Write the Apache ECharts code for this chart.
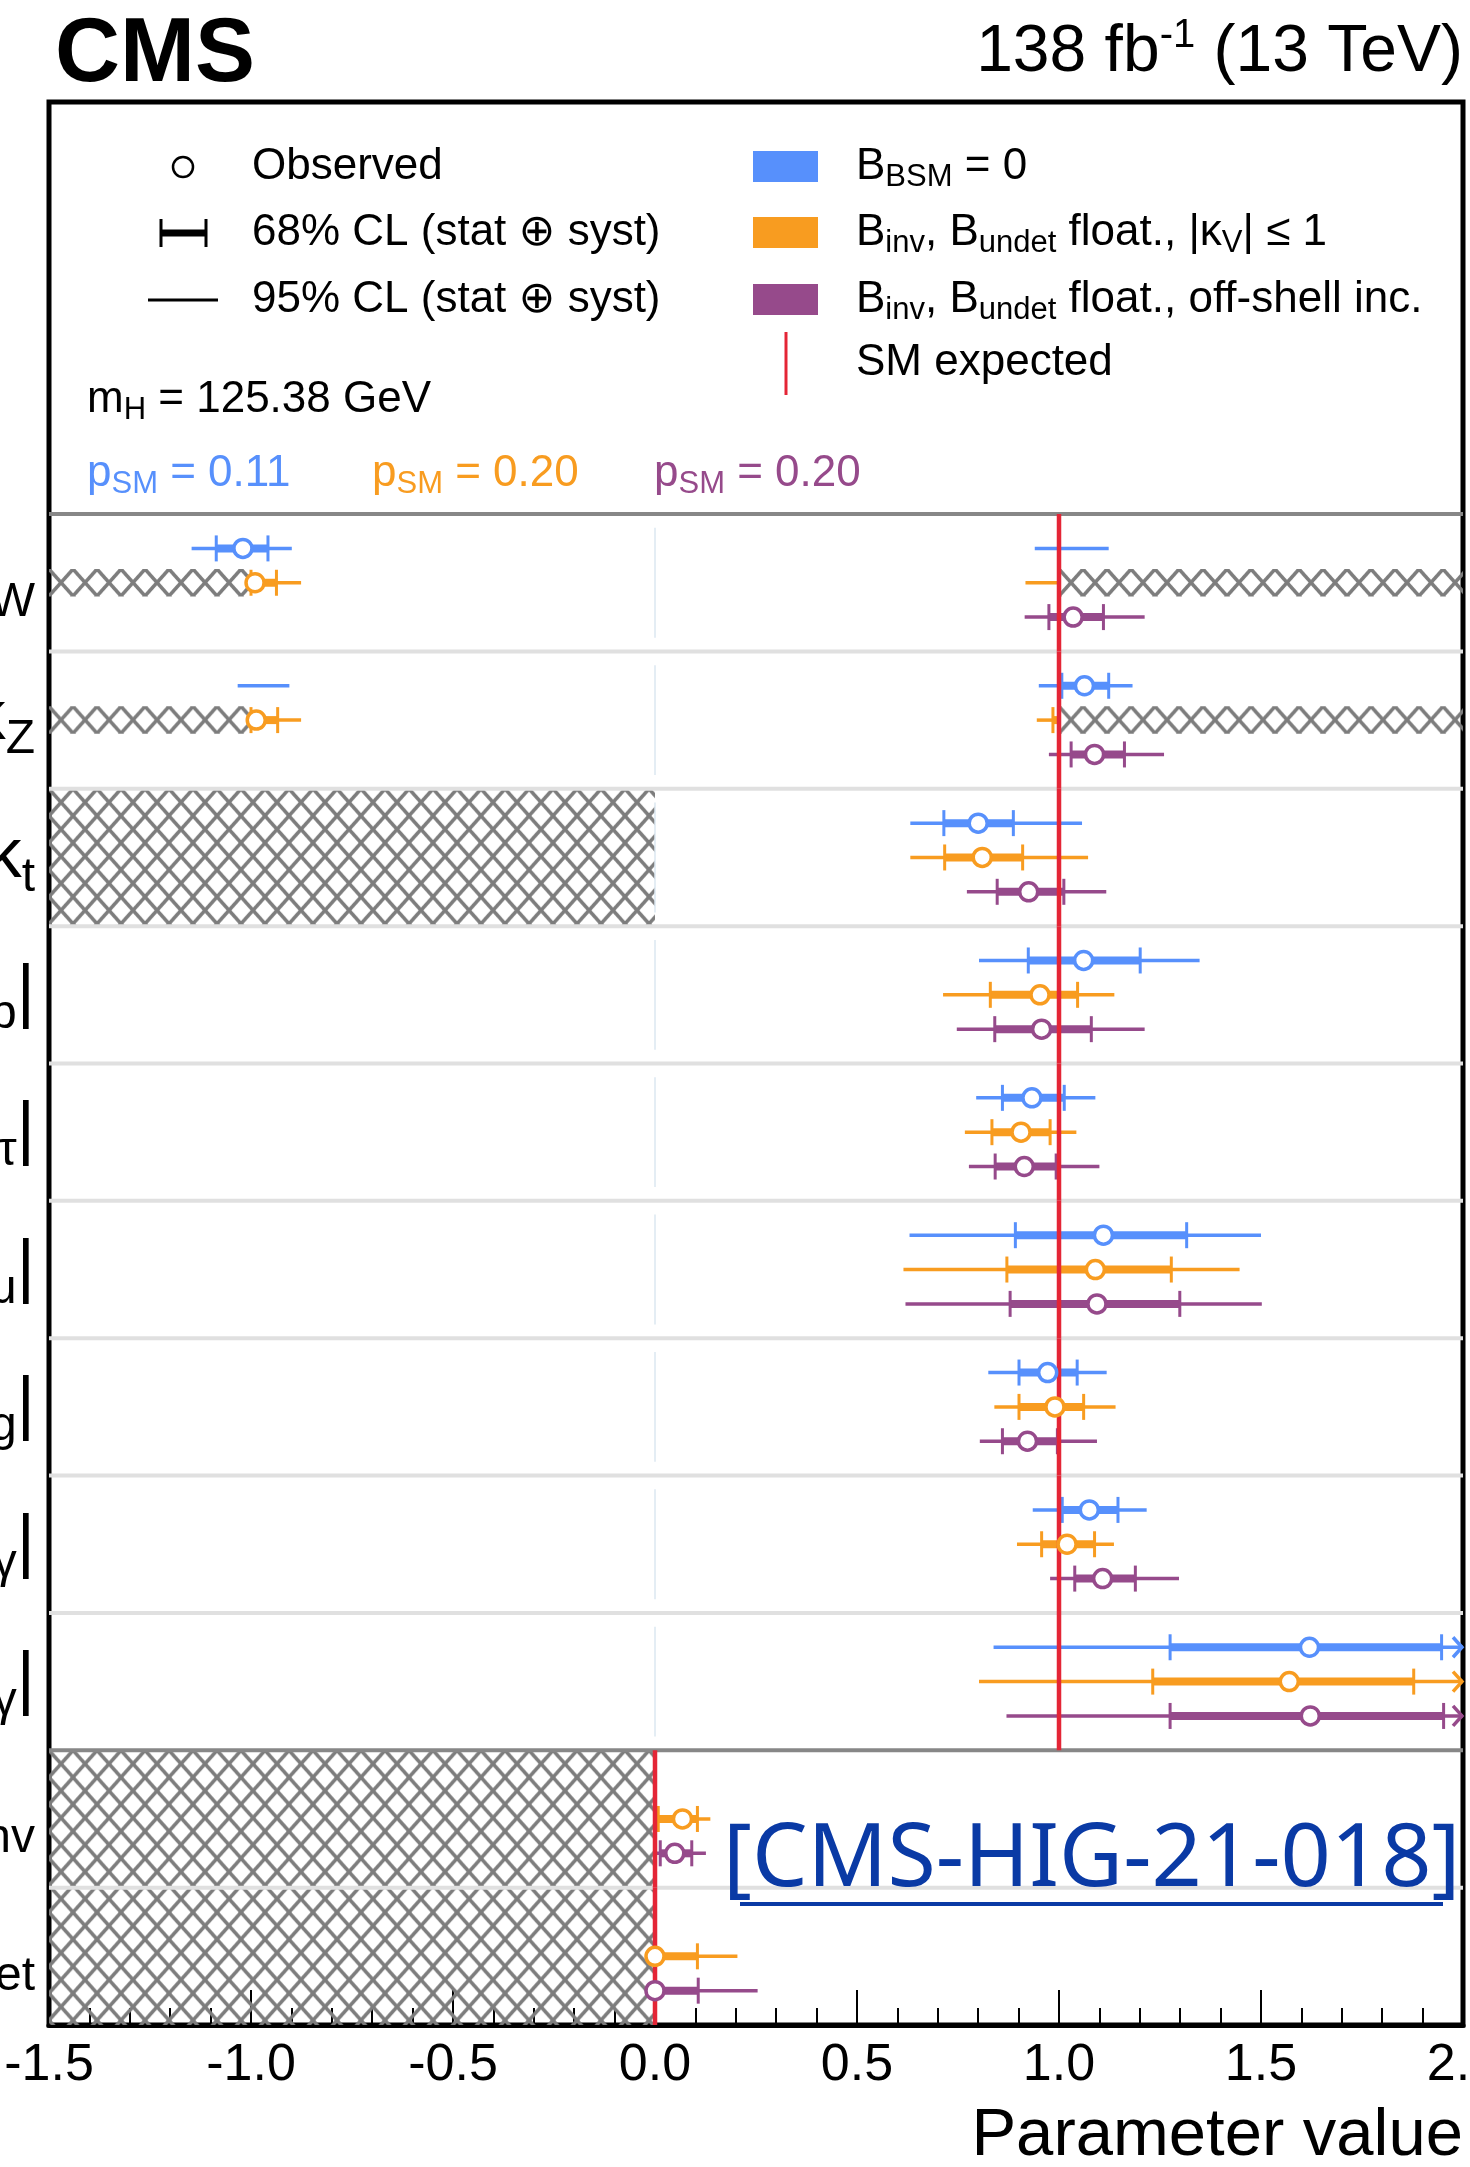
<!DOCTYPE html>
<html>
<head>
<meta charset="utf-8">
<script src="https://cdn.jsdelivr.net/npm/echarts@6/dist/echarts.min.js"></script>
<style>
html,body{margin:0;padding:0;background:#fff;}
#chart{width:1470px;height:2167px;}
</style>
</head>
<body>
<div id="chart"></div>
<script>
// ---------------- DATA ----------------
const X_MIN = -1.5, X_MAX = 2.0, X_STEP = 0.5;
const LEGEND_SLOTS = 3;
const rowNames = ['κ_W','κ_Z','κ_t','|κ_b|','|κ_τ|','|κ_μ|','|κ_g|','|κ_γ|','|κ_Zγ|','B_inv','B_undet'];
const smExpected = [1, 1, 1, 1, 1, 1, 1, 1, 1, 0, 0];
const modelLabels = [
  '{t|B}{s|BSM}{t| = 0}',
  '{t|B}{s|inv}{t|, B}{s|undet}{t| float., |κ}{s|V}{t|| ≤ 1}',
  '{t|B}{s|inv}{t|, B}{s|undet}{t| float., off-shell inc.}'
];
const pSM = ['0.11', '0.20', '0.20'];

// B_BSM = 0 (blue)
const blueCentral = [-1.02, 1.063, 0.80, 1.061, 0.933, 1.11, 0.972, 1.075, 1.62, null, null];
const blue68  = [[-1.086,-0.958],[1.007,1.123],[0.715,0.887],[0.924,1.201],[0.86,1.013],[0.892,1.316],[0.901,1.045],[1.008,1.146],[1.275,1.947],null,null];
const blue68b = [null,null,null,null,null,null,null,null,null,null,null];
const blue95  = [[-1.147,-0.899],[0.95,1.182],[0.632,1.057],[0.802,1.348],[0.795,1.09],[0.63,1.50],[0.825,1.118],[0.935,1.217],[0.838,null],null,null];
const blue95b = [[0.94,1.123],[-1.033,-0.905],null,null,null,null,null,null,null,null,null];

// B_inv, B_undet float., |kV| <= 1 (orange)
const orangeCentral = [-0.99, -0.987, 0.81, 0.953, 0.906, 1.09, 0.99, 1.02, 1.57, 0.068, 0.0];
const orange68  = [[-1.0,-0.937],[-1.0,-0.934],[0.717,0.91],[0.83,1.046],[0.834,0.978],[0.871,1.278],[0.901,1.061],[0.957,1.088],[1.232,1.878],[0.008,0.105],[0.0,0.105]];
const orange68b = [null,[0.985,1.0],null,null,null,null,null,null,null,null,null];
const orange95  = [[-1.0,-0.876],[-1.0,-0.876],[0.632,1.072],[0.713,1.137],[0.767,1.043],[0.615,1.447],[0.84,1.14],[0.896,1.136],[0.802,null],[0.0,0.137],[0.0,0.204]];
const orange95b = [[0.917,1.0],[0.945,1.0],null,null,null,null,null,null,null,null,null];

// B_inv, B_undet float., off-shell inc. (purple)
const purpleCentral = [1.035, 1.088, 0.925, 0.957, 0.914, 1.094, 0.922, 1.108, 1.622, 0.049, 0.0];
const purple68  = [[0.975,1.11],[1.03,1.162],[0.847,1.012],[0.841,1.08],[0.842,0.993],[0.879,1.299],[0.86,0.996],[1.039,1.189],[1.275,1.952],[0.013,0.091],[0.0,0.107]];
const purple68b = [null,null,null,null,null,null,null,null,null,null,null];
const purple95  = [[0.915,1.212],[0.975,1.26],[0.772,1.117],[0.747,1.212],[0.777,1.10],[0.62,1.502],[0.804,1.094],[0.978,1.297],[0.87,null],[0.0,0.126],[0.0,0.254]];
const purple95b = [null,null,null,null,null,null,null,null,null,null,null];

// Excluded (hatched) regions: x-range, first/last row, model band (-1 = whole row)
const hatchX        = [[-1.5,-1.0],[1.0,2.0],[-1.5,-1.0],[1.0,2.0],[-1.5,0.0],[-1.5,0.0]];
const hatchRowFirst = [0, 0, 1, 1, 2, 9];
const hatchRowLast  = [0, 0, 1, 1, 2, 10];
const hatchModel    = [1, 1, 1, 1, -1, -1];

// ---------------- STYLE ----------------
const F = "'Liberation Sans', Arial, Helvetica, 'DejaVu Sans', sans-serif";
const COLORS = ['#5790fc', '#f89c20', '#964a8b'];
const RED = '#e42536';
const OFFSETS = [-0.25, 0, 0.25];
const BAND_HALF = 0.1;

const centrals = [blueCentral, orangeCentral, purpleCentral];
const i68  = [blue68, orange68, purple68];
const i68b = [blue68b, orange68b, purple68b];
const i95  = [blue95, orange95, purple95];
const i95b = [blue95b, orange95b, purple95b];

function slotY(r) { return LEGEND_SLOTS + r + 0.5; }

function richLabel(s, main, sub) {
  const m = s.match(/^(.*?)_([^|]*)(\|?)$/);
  if (!m) return '{' + main + '|' + s + '}';
  let out = '{' + main + '|' + m[1] + '}{' + sub + '|' + m[2] + '}';
  if (m[3]) out += '{' + main + '|' + m[3] + '}';
  return out;
}

const catData = ['leg0', 'leg1', 'leg2'].concat(rowNames);
const labelMap = {};
rowNames.forEach(n => { labelMap[n] = richLabel(n, 'm', 's'); });

function barData(m) {
  const d95 = [], d68 = [];
  rowNames.forEach((_, r) => {
    const y = slotY(r) + OFFSETS[m];
    [i95[m][r], i95b[m][r]].forEach(iv => {
      if (iv) d95.push([iv[0], iv[1] == null ? X_MAX : iv[1], y, 0, iv[1] == null ? 1 : 0]);
    });
    [i68[m][r], i68b[m][r]].forEach(iv => {
      if (iv) d68.push([iv[0], iv[1], y, 1, 0]);
    });
  });
  return d95.concat(d68);
}
function pointData(m) {
  const d = [];
  rowNames.forEach((_, r) => {
    const c = centrals[m][r];
    if (c != null) d.push([c, slotY(r) + OFFSETS[m]]);
  });
  return d;
}

function renderBars(color) {
  return function (params, api) {
    const lo = api.value(0), hi = api.value(1), y = api.value(2), kind = api.value(3), arrow = api.value(4);
    const a = api.coord([lo, y]), b = api.coord([hi, y]);
    if (kind === 0) {
      const ch = [{type: 'line', shape: {x1: a[0], y1: a[1], x2: b[0], y2: b[1]}, style: {stroke: color, lineWidth: 3.5}}];
      if (arrow) ch.push({type: 'polyline', shape: {points: [[b[0] - 10, b[1] - 10], [b[0] - 1, b[1]], [b[0] - 10, b[1] + 10]]}, style: {stroke: color, fill: null, lineWidth: 3.5}});
      return {type: 'group', children: ch};
    }
    return {type: 'group', children: [
      {type: 'line', shape: {x1: a[0], y1: a[1], x2: b[0], y2: b[1]}, style: {stroke: color, lineWidth: 8}},
      {type: 'line', shape: {x1: a[0], y1: a[1] - 13, x2: a[0], y2: a[1] + 13}, style: {stroke: color, lineWidth: 3}},
      {type: 'line', shape: {x1: b[0], y1: b[1] - 13, x2: b[0], y2: b[1] + 13}, style: {stroke: color, lineWidth: 3}}
    ]};
  };
}

// hatch pattern
function makeHatch() {
  const w = 24, h = 27;
  const c = document.createElement('canvas');
  c.width = w; c.height = h;
  const g = c.getContext('2d');
  g.strokeStyle = '#7d7d7d';
  g.lineWidth = 3.5;
  g.beginPath();
  [-w, 0, w].forEach(dx => {
    g.moveTo(dx, 0); g.lineTo(dx + w, h);
    g.moveTo(dx + w, 0); g.lineTo(dx, h);
  });
  g.stroke();
  return c;
}
const hatchCanvas = makeHatch();

const hatchData = hatchX.map((xr, i) => {
  let y0, y1;
  if (hatchModel[i] >= 0) {
    const yc = slotY(hatchRowFirst[i]) + OFFSETS[hatchModel[i]];
    y0 = yc - BAND_HALF; y1 = yc + BAND_HALF;
  } else {
    y0 = LEGEND_SLOTS + hatchRowFirst[i]; y1 = LEGEND_SLOTS + hatchRowLast[i] + 1;
  }
  return [xr[0], xr[1], y0, y1];
});

// separators between rows: 1 = dark, 0 = light
const sepData = [];
for (let r = 0; r < rowNames.length; r++) {
  const dark = (r === 0) || (smExpected[r] !== smExpected[r - 1]);
  sepData.push([LEGEND_SLOTS + r, dark ? 1 : 0]);
}
const smData = rowNames.map((_, r) => [smExpected[r], LEGEND_SLOTS + r, LEGEND_SLOTS + r + 1]);
const faintData = rowNames.map((_, r) => r).filter(r => smExpected[r] === 1).map(r => [0, LEGEND_SLOTS + r + 0.1, LEGEND_SLOTS + r + 0.9]);

const series = [];
series.push({
  type: 'custom', name: 'hatch', z: 1, silent: true, data: hatchData,
  encode: {x: [0, 1], y: [2, 3]},
  renderItem: function (params, api) {
    const p0 = api.coord([api.value(0), api.value(2)]);
    const p1 = api.coord([api.value(1), api.value(3)]);
    const x = Math.min(p0[0], p1[0]), y = Math.min(p0[1], p1[1]);
    const w = Math.abs(p1[0] - p0[0]), h = Math.abs(p1[1] - p0[1]);
    return {type: 'rect', shape: {x: x, y: y, width: w, height: h},
      style: {fill: {image: hatchCanvas, repeat: 'repeat', x: x, y: y}}};
  }
});
series.push({
  type: 'custom', name: 'separators', z: 2, silent: true, data: sepData,
  encode: {y: 0},
  renderItem: function (params, api) {
    const a = api.coord([X_MIN, api.value(0)]), b = api.coord([X_MAX, api.value(0)]);
    const dark = api.value(1) === 1;
    return {type: 'line', shape: {x1: a[0], y1: a[1], x2: b[0], y2: b[1]},
      style: {stroke: dark ? '#878787' : '#e0e0e0', lineWidth: 4}};
  }
});
series.push({
  type: 'custom', name: 'zeroRef', z: 2, silent: true, data: faintData,
  encode: {x: 0, y: [1, 2]},
  renderItem: function (params, api) {
    const a = api.coord([api.value(0), api.value(1)]), b = api.coord([api.value(0), api.value(2)]);
    return {type: 'line', shape: {x1: a[0], y1: a[1], x2: b[0], y2: b[1]}, style: {stroke: '#dbe7f0', lineWidth: 1.5}};
  }
});
for (let m = 0; m < 3; m++) {
  series.push({
    type: 'custom', name: 'bars' + m, z: 3, silent: true, data: barData(m),
    encode: {x: [0, 1], y: 2},
    renderItem: renderBars(COLORS[m])
  });
}
series.push({
  type: 'custom', name: 'SM expected', z: 4, silent: true, data: smData,
  encode: {x: 0, y: [1, 2]},
  renderItem: function (params, api) {
    const a = api.coord([api.value(0), api.value(1)]), b = api.coord([api.value(0), api.value(2)]);
    return {type: 'line', shape: {x1: a[0], y1: a[1], x2: b[0], y2: b[1]}, style: {stroke: RED, lineWidth: 4.5}};
  }
});
for (let m = 0; m < 3; m++) {
  series.push({
    type: 'scatter', name: 'obs' + m, z: 5, silent: true, data: pointData(m),
    symbol: 'circle', symbolSize: 18,
    itemStyle: {color: '#ffffff', borderColor: COLORS[m], borderWidth: 3.5, opacity: 1}
  });
}

// ---------------- GRAPHICS (header, legend) ----------------
function txt(x, y, text, extra) {
  return {type: 'text', x: x, y: y, z: 10, silent: true,
    style: Object.assign({text: text, fontFamily: F, fontSize: 44, fill: '#000', align: 'left', verticalAlign: 'middle',
      rich: {t: {fontFamily: F, fontSize: 44, fill: (extra && extra.fill) || '#000'},
             s: {fontFamily: F, fontSize: 31, fill: (extra && extra.fill) || '#000', padding: [20, 0, 0, 0]}}}, extra || {})};
}
const graphics = [
  {type: 'text', x: 55, y: 56, z: 10, silent: true, style: {text: 'CMS', fontFamily: F, fontSize: 90, fontWeight: 'bold', fill: '#000', align: 'left', verticalAlign: 'middle'}},
  {type: 'text', x: 1463, y: 53, z: 10, silent: true, style: {text: '{n|138 fb}{sup|-1}{n| (13 TeV)}', fontFamily: F, fontSize: 66, fill: '#000', align: 'right', verticalAlign: 'middle',
    rich: {n: {fontFamily: F, fontSize: 66, fill: '#000'}, sup: {fontFamily: F, fontSize: 40, fill: '#000', padding: [0, 0, 34, 0]}}}},
  // legend markers
  {type: 'circle', z: 10, silent: true, shape: {cx: 183, cy: 167, r: 10}, style: {fill: '#fff', stroke: '#000', lineWidth: 2.5}},
  {type: 'line', z: 10, silent: true, shape: {x1: 161, y1: 233, x2: 206, y2: 233}, style: {stroke: '#000', lineWidth: 7}},
  {type: 'line', z: 10, silent: true, shape: {x1: 161, y1: 219, x2: 161, y2: 247}, style: {stroke: '#000', lineWidth: 3}},
  {type: 'line', z: 10, silent: true, shape: {x1: 206, y1: 219, x2: 206, y2: 247}, style: {stroke: '#000', lineWidth: 3}},
  {type: 'line', z: 10, silent: true, shape: {x1: 148, y1: 300, x2: 218, y2: 300}, style: {stroke: '#000', lineWidth: 3}},
  txt(252, 167, 'Observed'),
  txt(252, 233, '68% CL (stat ⊕ syst)'),
  txt(252, 300, '95% CL (stat ⊕ syst)'),
  {type: 'rect', z: 10, silent: true, shape: {x: 753, y: 151, width: 65, height: 31}, style: {fill: COLORS[0]}},
  {type: 'rect', z: 10, silent: true, shape: {x: 753, y: 217, width: 65, height: 31}, style: {fill: COLORS[1]}},
  {type: 'rect', z: 10, silent: true, shape: {x: 753, y: 284, width: 65, height: 31}, style: {fill: COLORS[2]}},
  {type: 'line', z: 10, silent: true, shape: {x1: 786, y1: 332, x2: 786, y2: 395}, style: {stroke: RED, lineWidth: 3}},
  txt(856, 167, modelLabels[0]),
  txt(856, 233, modelLabels[1]),
  txt(856, 300, modelLabels[2]),
  txt(856, 363, 'SM expected'),
  txt(87, 400, '{t|m}{s|H}{t| = 125.38 GeV}'),
  txt(87, 474, '{t|p}{s|SM}{t| = ' + pSM[0] + '}', {fill: COLORS[0]}),
  txt(372, 474, '{t|p}{s|SM}{t| = ' + pSM[1] + '}', {fill: COLORS[1]}),
  txt(654, 474, '{t|p}{s|SM}{t| = ' + pSM[2] + '}', {fill: COLORS[2]}),
  // reference tag
  {type: 'text', x: 723, y: 1861, z: 20, silent: true, style: {text: '[CMS-HIG-21-018]', fontFamily: "'Noto Sans', sans-serif", fontWeight: 400, fontSize: 88, fill: '#0a3aa5', align: 'left', verticalAlign: 'middle'}},
  {type: 'line', z: 20, silent: true, shape: {x1: 740, y1: 1904, x2: 1443, y2: 1904}, style: {stroke: '#0a3aa5', lineWidth: 4}}
];

const option = {
  animation: false,
  backgroundColor: '#ffffff',
  grid: {left: 49, right: 7, top: 102, bottom: 142, show: true, borderColor: '#000', borderWidth: 5,
    backgroundColor: 'transparent', containLabel: false, outerBoundsMode: 'none'},
  xAxis: {
    type: 'value', min: X_MIN, max: X_MAX, interval: X_STEP, position: 'bottom',
    name: 'Parameter value', nameLocation: 'end', nameGap: 0, nameMoveOverlap: false,
    nameTextStyle: {fontFamily: F, fontSize: 67, color: '#000', align: 'right', verticalAlign: 'top', lineHeight: 67, padding: [78, 0, 0, 0]},
    axisLine: {show: true, onZero: false, lineStyle: {color: '#000', width: 5}},
    axisTick: {show: true, inside: true, length: 35, lineStyle: {color: '#000', width: 2}},
    minorTick: {show: true, splitNumber: 5, length: 17, lineStyle: {color: '#000', width: 2}},
    splitLine: {show: false}, minorSplitLine: {show: false},
    axisLabel: {fontFamily: F, fontSize: 52, color: '#000', margin: 15, formatter: v => v.toFixed(1), showMinLabel: true, showMaxLabel: true}
  },
  yAxis: [
    {type: 'value', min: 0, max: LEGEND_SLOTS + rowNames.length, inverse: true, show: false},
    {type: 'category', data: catData, inverse: true, position: 'left',
      axisLine: {show: false}, axisTick: {show: false}, splitLine: {show: false},
      axisLabel: {interval: 0, margin: 14, formatter: v => labelMap[v] || '',
        rich: {m: {fontFamily: F, fontSize: 70, color: '#000'},
               s: {fontFamily: F, fontSize: 48, color: '#000', padding: [40, 0, 0, 0]}}}}
  ],
  graphic: graphics,
  series: series.map(s => Object.assign({xAxisIndex: 0, yAxisIndex: 0}, s))
};

const chart = echarts.init(document.getElementById('chart'), null, {renderer: 'canvas', width: 1470, height: 2167});
chart.setOption(option);
</script>
</body>
</html>
